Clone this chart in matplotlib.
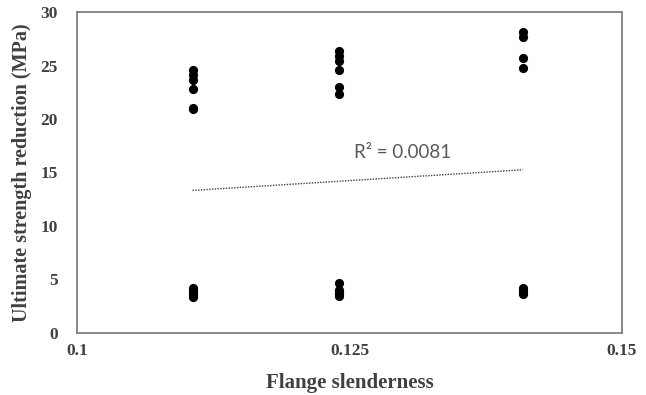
import numpy as np
import matplotlib
matplotlib.use("Agg")
import matplotlib.pyplot as plt

# flange slenderness groups and measured reductions (MPa)
slender = [0.1106, 0.1240, 0.1409]
high = [
    [24.6, 24.1, 23.6, 22.8, 21.0, 20.9],
    [26.4, 25.9, 25.4, 24.6, 23.0, 22.3],
    [28.1, 27.7, 25.7, 24.8],
]
low = [
    [4.2, 4.0, 3.8, 3.6, 3.5, 3.4],
    [4.7, 4.0, 3.8, 3.7, 3.6, 3.5],
    [4.2, 3.9, 3.7, 3.6],
]
r2_label = "R² = 0.0081"

xs, ys = [], []
for s, h, l in zip(slender, high, low):
    for v in h + l:
        xs.append(s)
        ys.append(v)
xs = np.array(xs)
ys = np.array(ys)

fig = plt.figure(figsize=(6.46, 3.95), dpi=100)
ax = fig.add_axes([0.1192, 0.157, 0.8436, 0.8126])

ax.plot(xs, ys, "o", color="black", markersize=5.6, linestyle="none")

k, b = np.polyfit(xs, ys, 1)
xl = np.array([xs.min(), xs.max()])
ax.plot(xl, k * xl + b, linestyle=(0, (1, 1)), color="#404040", linewidth=1.0)

ax.text(0.1254, 16.9, r2_label, fontsize=13.5, color="#595959", family="Lato",
        va="center", ha="left")

ax.set_xlim(0.1, 0.15)
ax.set_ylim(0, 30)
ax.set_xticks([0.1, 0.125, 0.15])
ax.set_xticklabels(["0.1", "0.125", "0.15"])
ax.set_yticks(range(0, 31, 5))
ax.tick_params(length=0)
ax.tick_params(axis="y", pad=14)
ax.tick_params(axis="x", pad=7)
for t in ax.get_xticklabels() + ax.get_yticklabels():
    t.set_family("Liberation Serif")
    t.set_fontweight("bold")
    t.set_fontsize(12.5)
    t.set_color("#404040")

for sp in ax.spines.values():
    sp.set_color("#808080")
    sp.set_linewidth(1.3)

ax.set_xlabel("Flange slenderness", family="Liberation Serif", fontweight="bold",
              fontsize=15, color="#404040", labelpad=10)
ax.set_ylabel("Ultimate strength reduction (MPa)", family="Liberation Serif",
              fontweight="bold", fontsize=14.5, color="#404040", labelpad=6)

plt.savefig("out.png", dpi=100)
